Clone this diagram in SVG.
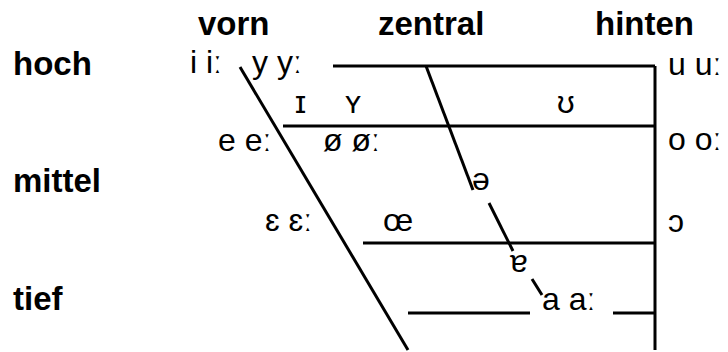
<svg xmlns="http://www.w3.org/2000/svg" width="728" height="352" viewBox="0 0 728 352">
<style>
.h{font-family:"Liberation Sans",Arial,sans-serif;font-weight:bold;font-size:33px;fill:#000}
.v{font-family:"Liberation Sans","DejaVu Sans",Arial,sans-serif;font-size:32px;fill:#000}
.s{font-family:"Liberation Sans","DejaVu Sans",Arial,sans-serif;font-size:31px;fill:#000}
line{stroke:#000;stroke-width:3;fill:none}
</style>
<rect width="728" height="352" fill="#fff"/>
<g id="headers">
<text class="h" x="198" y="35">vorn</text>
<text class="h" x="378" y="35">zentral</text>
<text class="h" x="595" y="35">hinten</text>
<text class="h" x="13" y="75">hoch</text>
<text class="h" x="13" y="192">mittel</text>
<text class="h" x="13" y="310">tief</text>
</g>
<g id="connectors">
<line x1="333" y1="66" x2="655" y2="66"/>
<line x1="655" y1="66" x2="655" y2="350"/>
<line x1="283" y1="126" x2="655" y2="126"/>
<line x1="363" y1="243" x2="655" y2="243"/>
<line x1="408" y1="313" x2="530" y2="313"/>
<line x1="613" y1="313" x2="655" y2="313"/>
<line x1="240" y1="67" x2="408" y2="350"/>
<line x1="426" y1="66" x2="473" y2="190"/>
<line x1="489" y1="203" x2="513" y2="251"/>
<line x1="532" y1="279" x2="542" y2="295"/>
</g>
<g id="vowels">
<text class="v" x="190" y="73">i iː</text>
<text class="v" x="252" y="73">y yː</text>
<text class="v" x="668" y="75">u uː</text>
<text class="s" x="295" y="113">ɪ</text>
<text class="s" x="345" y="113">ʏ</text>
<text class="s" x="557" y="113">ʊ</text>
<text class="v" x="218" y="151">e eː</text>
<text class="v" x="323" y="151">ø øː</text>
<text class="v" x="668" y="150">o oː</text>
<text class="v" x="472" y="190">ə</text>
<text class="v" x="265" y="231">ɛ ɛː</text>
<text class="v" x="383" y="231">œ</text>
<text class="v" x="668" y="232">ɔ</text>
<text class="v" x="510" y="272">ɐ</text>
<text class="v" x="542" y="310">a aː</text>
</g>
</svg>
